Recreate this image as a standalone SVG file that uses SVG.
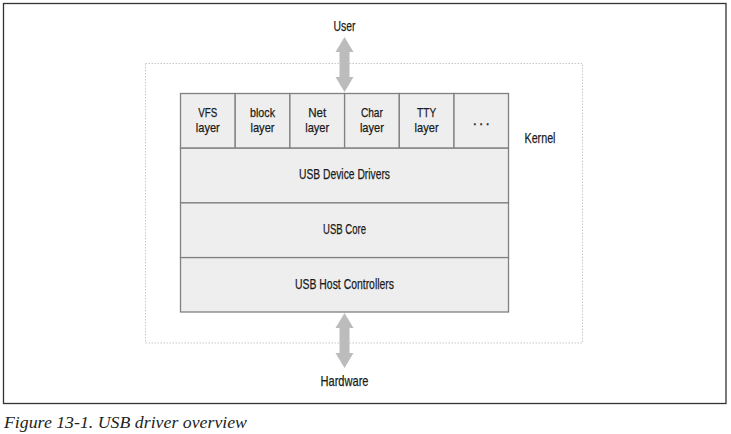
<svg xmlns="http://www.w3.org/2000/svg" width="731" height="434" viewBox="0 0 731 434">
<style>
.t{font-family:"Liberation Sans",Arial,sans-serif;font-size:15px;fill:#1a1a1a;text-anchor:middle;stroke:#1a1a1a;stroke-width:0.25}
.s{font-size:13.5px}
.box{fill:#eeeeee;stroke:#808080;stroke-width:1.3}
.arr{fill:#bcbcbc}
</style>
<rect x="0" y="0" width="731" height="434" fill="#ffffff"/>
<rect x="3.5" y="3.5" width="722.5" height="400" fill="none" stroke="#333333" stroke-width="1.3"/>
<g id="kernel">
<rect x="145.5" y="63.5" width="437" height="279.5" fill="none" stroke="#c8c8c8" stroke-width="1" stroke-dasharray="1.5,1.5"/>
<text class="t" x="540" y="143" textLength="31" lengthAdjust="spacingAndGlyphs">Kernel</text>
</g>
<g id="vfs"><rect class="box" x="180.5" y="93.5" width="54.7" height="54.7"/><text class="t s" x="207.8" y="117" textLength="19" lengthAdjust="spacingAndGlyphs">VFS</text><text class="t s" x="207.8" y="131.5" textLength="24" lengthAdjust="spacingAndGlyphs">layer</text></g>
<g id="block"><rect class="box" x="235.2" y="93.5" width="54.7" height="54.7"/><text class="t s" x="262.5" y="117" textLength="25" lengthAdjust="spacingAndGlyphs">block</text><text class="t s" x="262.5" y="131.5" textLength="24" lengthAdjust="spacingAndGlyphs">layer</text></g>
<g id="net"><rect class="box" x="289.9" y="93.5" width="54.7" height="54.7"/><text class="t s" x="317.2" y="117" textLength="18" lengthAdjust="spacingAndGlyphs">Net</text><text class="t s" x="317.2" y="131.5" textLength="24" lengthAdjust="spacingAndGlyphs">layer</text></g>
<g id="char"><rect class="box" x="344.6" y="93.5" width="54.7" height="54.7"/><text class="t s" x="371.9" y="117" textLength="22" lengthAdjust="spacingAndGlyphs">Char</text><text class="t s" x="371.9" y="131.5" textLength="24" lengthAdjust="spacingAndGlyphs">layer</text></g>
<g id="tty"><rect class="box" x="399.3" y="93.5" width="54.7" height="54.7"/><text class="t s" x="426.6" y="117" textLength="19" lengthAdjust="spacingAndGlyphs">TTY</text><text class="t s" x="426.6" y="131.5" textLength="24" lengthAdjust="spacingAndGlyphs">layer</text></g>
<g id="more"><rect class="box" x="454" y="93.5" width="54.5" height="54.7"/><text class="t" x="481.2" y="125" textLength="17" lengthAdjust="spacing">. . .</text></g>
<g id="device-drivers"><rect class="box" x="180.5" y="148.2" width="328" height="54.7"/><text class="t" x="344.5" y="179" textLength="91" lengthAdjust="spacingAndGlyphs">USB Device Drivers</text></g>
<g id="usb-core"><rect class="box" x="180.5" y="202.9" width="328" height="54.7"/><text class="t" x="344.5" y="234" textLength="43" lengthAdjust="spacingAndGlyphs">USB Core</text></g>
<g id="host-controllers"><rect class="box" x="180.5" y="257.6" width="328" height="54.4"/><text class="t" x="344.5" y="289" textLength="99" lengthAdjust="spacingAndGlyphs">USB Host Controllers</text></g>
<g id="user"><text class="t" x="344.5" y="31" textLength="22" lengthAdjust="spacingAndGlyphs">User</text></g>
<g id="hardware"><text class="t" x="344.5" y="386" textLength="48" lengthAdjust="spacingAndGlyphs">Hardware</text></g>
<g id="connectors">
<polygon class="arr" points="344.5,37 353.5,52 349.5,52 349.5,77 353.5,77 344.5,92 335.5,77 339.5,77 339.5,52 335.5,52"/>
<polygon class="arr" points="344.5,313 353.5,328 349.5,328 349.5,353 353.5,353 344.5,368 335.5,353 339.5,353 339.5,328 335.5,328"/>
</g>
<text x="4" y="428" font-family="'Liberation Serif','Times New Roman',serif" font-style="italic" font-size="17.5" fill="#231f20" textLength="243" lengthAdjust="spacingAndGlyphs">Figure 13-1. USB driver overview</text>
</svg>
